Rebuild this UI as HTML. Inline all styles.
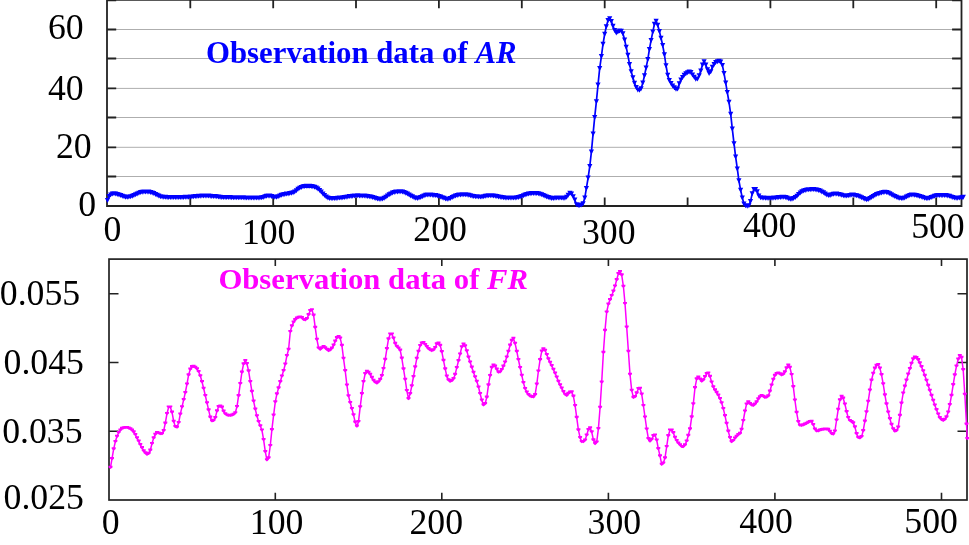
<!DOCTYPE html>
<html lang="en">
<head>
<meta charset="utf-8">
<title>Observation data of AR and FR</title>
<style>
html,body{margin:0;padding:0;background:#fff;}
body{width:969px;height:545px;overflow:hidden;}
svg{display:block;}
text{font-family:"Liberation Serif",serif;}
.tick{font-size:35.7px;fill:#000;}
.ttl{font-size:30.8px;font-weight:bold;}
.it{font-style:italic;}
</style>
</head>
<body>
<svg width="969" height="545" viewBox="0 0 969 545">
<rect x="0" y="0" width="969" height="545" fill="#ffffff"/>
<g id="chart-ar">
<path d="M107.0 176.5H961.5M107.0 147.3H961.5M107.0 117.5H961.5M107.0 88.4H961.5M107.0 58.5H961.5M107.0 29.5H961.5" stroke="#aeaeae" stroke-width="1" fill="none"/>
<path d="M107.0 176.5h9.2M961.5 176.5h-9.4M107.0 147.3h9.2M961.5 147.3h-9.4M107.0 117.5h9.2M961.5 117.5h-9.4M107.0 88.4h9.2M961.5 88.4h-9.4M107.0 58.5h9.2M961.5 58.5h-9.4M107.0 29.5h9.2M961.5 29.5h-9.4M107.0 0.3h9.2M961.5 0.3h-9.4M190.3 0v8.2M190.3 206.0v-8.4M273.2 0v8.2M273.2 206.0v-8.4M356.0 0v8.2M356.0 206.0v-8.4M438.9 0v8.2M438.9 206.0v-8.4M521.8 0v8.2M521.8 206.0v-8.4M604.7 0v8.2M604.7 206.0v-8.4M687.6 0v8.2M687.6 206.0v-8.4M770.4 0v8.2M770.4 206.0v-8.4M853.3 0v8.2M853.3 206.0v-8.4M936.2 0v8.2M936.2 206.0v-8.4" stroke="#222222" stroke-width="1.8" fill="none"/>
<path d="M107.0 0V206.0H961.5V0" stroke="#222222" stroke-width="1.8" fill="none" stroke-linejoin="miter"/>
<path d="M107.0 -0.2H961.5" stroke="#222222" stroke-width="1.8" fill="none"/>
<polyline points="107.5,200.2 109.1,196.2 110.7,194.8 112.4,193.9 114.0,193.5 115.7,193.7 117.3,194.2 119.0,194.9 120.7,195.4 122.3,196.0 124.0,196.6 125.6,197.0 127.3,197.1 128.9,196.9 130.6,196.5 132.3,195.9 133.9,195.3 135.6,194.5 137.2,193.7 138.9,192.9 140.6,192.4 142.2,192.0 143.9,191.7 145.5,191.6 147.2,191.7 148.8,191.9 150.5,192.2 152.2,192.6 153.8,193.3 155.5,194.1 157.1,194.9 158.8,195.8 160.4,196.4 162.1,196.8 163.8,197.0 165.4,197.1 167.1,197.1 168.7,197.2 170.4,197.2 172.0,197.2 173.7,197.2 175.4,197.2 177.0,197.2 178.7,197.2 180.3,197.2 182.0,197.1 183.6,197.1 185.3,197.1 187.0,197.0 188.6,197.0 190.3,196.8 191.9,196.7 193.6,196.5 195.3,196.4 196.9,196.2 198.6,196.1 200.2,196.0 201.9,195.9 203.5,195.8 205.2,195.8 206.9,195.8 208.5,195.9 210.2,196.0 211.8,196.1 213.5,196.2 215.1,196.4 216.8,196.6 218.5,196.8 220.1,197.0 221.8,197.2 223.4,197.3 225.1,197.3 226.7,197.4 228.4,197.4 230.1,197.4 231.7,197.4 233.4,197.4 235.0,197.5 236.7,197.5 238.4,197.5 240.0,197.5 241.7,197.5 243.3,197.6 245.0,197.6 246.6,197.6 248.3,197.7 250.0,197.8 251.6,197.8 253.3,197.8 254.9,197.8 256.6,197.8 258.2,197.8 259.9,197.7 261.6,197.5 263.2,197.1 264.9,196.6 266.5,196.0 268.2,195.8 269.8,195.9 271.5,196.2 273.2,196.7 274.8,197.0 276.5,197.0 278.1,196.4 279.8,195.7 281.4,195.0 283.1,194.5 284.8,194.1 286.4,193.9 288.1,193.6 289.7,193.4 291.4,193.0 293.1,192.5 294.7,191.7 296.4,190.5 298.0,189.1 299.7,188.0 301.3,187.2 303.0,186.6 304.7,186.2 306.3,186.0 308.0,185.9 309.6,186.0 311.3,186.2 312.9,186.5 314.6,187.0 316.3,187.7 317.9,188.7 319.6,190.2 321.2,191.9 322.9,193.6 324.5,195.3 326.2,196.7 327.9,197.7 329.5,198.2 331.2,198.4 332.8,198.3 334.5,198.2 336.1,198.1 337.8,198.0 339.5,197.8 341.1,197.7 342.8,197.5 344.4,197.2 346.1,196.9 347.8,196.6 349.4,196.4 351.1,196.1 352.7,195.9 354.4,195.8 356.0,195.6 357.7,195.6 359.4,195.6 361.0,195.7 362.7,195.8 364.3,195.9 366.0,196.0 367.6,196.2 369.3,196.5 371.0,196.9 372.6,197.3 374.3,197.7 375.9,198.3 377.6,198.7 379.2,199.0 380.9,199.0 382.6,198.7 384.2,197.9 385.9,196.9 387.5,195.7 389.2,194.6 390.8,193.6 392.5,192.8 394.2,192.3 395.8,191.9 397.5,191.6 399.1,191.5 400.8,191.5 402.5,191.8 404.1,192.2 405.8,192.9 407.4,193.9 409.1,194.8 410.7,195.6 412.4,196.6 414.1,197.5 415.7,198.0 417.4,198.1 419.0,197.8 420.7,197.2 422.3,196.4 424.0,195.7 425.7,195.1 427.3,194.8 429.0,194.8 430.6,194.9 432.3,195.0 433.9,195.2 435.6,195.4 437.3,195.7 438.9,196.1 440.6,196.7 442.2,197.4 443.9,198.1 445.6,198.7 447.2,199.0 448.9,198.8 450.5,198.2 452.2,197.4 453.8,196.6 455.5,195.8 457.2,195.3 458.8,194.8 460.5,194.6 462.1,194.5 463.8,194.4 465.4,194.5 467.1,194.7 468.8,195.1 470.4,195.5 472.1,195.9 473.7,196.2 475.4,196.4 477.0,196.5 478.7,196.6 480.4,196.7 482.0,196.6 483.7,196.4 485.3,196.1 487.0,195.8 488.6,195.6 490.3,195.5 492.0,195.5 493.6,195.7 495.3,196.0 496.9,196.3 498.6,196.7 500.3,197.0 501.9,197.3 503.6,197.5 505.2,197.6 506.9,197.8 508.5,197.9 510.2,197.9 511.9,197.9 513.5,197.8 515.2,197.6 516.8,197.5 518.5,197.2 520.1,196.8 521.8,196.2 523.5,195.5 525.1,194.9 526.8,194.3 528.4,193.8 530.1,193.5 531.7,193.3 533.4,193.1 535.1,193.2 536.7,193.3 538.4,193.6 540.0,194.0 541.7,194.6 543.3,195.3 545.0,196.0 546.7,196.7 548.3,197.4 550.0,197.9 551.6,198.2 553.3,198.2 555.0,198.0 556.6,197.7 558.3,197.7 559.9,197.7 561.6,197.8 563.2,197.9 564.9,198.0 566.6,197.1 568.2,195.0 569.9,193.0 571.5,193.9 573.2,196.5 574.8,199.7 576.5,204.5 578.2,205.3 579.8,205.3 581.5,204.8 583.1,203.5 584.8,197.8 586.4,188.1 588.1,177.8 589.8,166.2 591.4,151.8 593.1,133.7 594.7,117.2 596.4,101.4 598.0,84.9 599.7,68.1 601.4,56.3 603.0,44.1 604.7,34.0 606.3,26.4 608.0,20.4 609.7,18.5 611.3,21.1 613.0,26.0 614.6,30.2 616.3,32.8 617.9,31.7 619.6,30.7 621.3,30.9 622.9,33.5 624.6,39.6 626.2,47.1 627.9,55.1 629.5,64.2 631.2,71.6 632.9,77.5 634.5,83.1 636.2,87.4 637.8,89.6 639.5,90.1 641.1,88.5 642.8,82.9 644.5,75.5 646.1,67.6 647.8,59.3 649.4,49.3 651.1,40.2 652.8,31.8 654.4,24.1 656.1,21.0 657.7,25.1 659.4,31.2 661.0,38.0 662.7,45.3 664.4,54.5 666.0,65.5 667.7,75.0 669.3,80.3 671.0,83.3 672.6,85.7 674.3,87.5 676.0,89.0 677.6,88.7 679.3,83.5 680.9,79.8 682.6,77.3 684.2,75.0 685.9,73.5 687.6,72.5 689.2,71.9 690.9,72.3 692.5,74.8 694.2,77.0 695.8,78.9 697.5,78.8 699.2,75.6 700.8,70.6 702.5,64.7 704.1,61.4 705.8,64.8 707.5,69.5 709.1,73.2 710.8,71.6 712.4,67.0 714.1,64.3 715.7,62.3 717.4,61.5 719.1,61.0 720.7,61.6 722.4,65.3 724.0,73.2 725.7,82.8 727.3,92.4 729.0,102.0 730.7,114.1 732.3,128.8 734.0,143.4 735.6,156.6 737.3,168.7 738.9,180.6 740.6,189.9 742.3,197.8 743.9,203.6 745.6,205.6 747.2,206.0 748.9,205.5 750.5,201.4 752.2,193.6 753.9,189.3 755.5,189.4 757.2,191.4 758.8,195.6 760.5,197.5 762.2,197.6 763.8,197.9 765.5,197.9 767.1,198.0 768.8,198.0 770.4,198.0 772.1,197.9 773.8,197.8 775.4,197.7 777.1,197.5 778.7,197.3 780.4,197.2 782.0,197.0 783.7,197.0 785.4,197.2 787.0,197.7 788.7,198.4 790.3,198.9 792.0,198.9 793.6,198.4 795.3,197.3 797.0,196.0 798.6,194.4 800.3,192.8 801.9,191.6 803.6,190.7 805.2,190.1 806.9,189.8 808.6,189.6 810.2,189.4 811.9,189.4 813.5,189.4 815.2,189.5 816.9,189.8 818.5,190.2 820.2,190.8 821.8,191.6 823.5,192.6 825.1,193.7 826.8,194.7 828.5,195.3 830.1,195.1 831.8,194.5 833.4,194.0 835.1,193.7 836.7,193.8 838.4,194.1 840.1,194.6 841.7,195.0 843.4,195.5 845.0,195.8 846.7,195.8 848.3,195.6 850.0,195.2 851.7,194.9 853.3,194.9 855.0,195.1 856.6,195.6 858.3,196.1 860.0,196.7 861.6,197.4 863.3,198.3 864.9,199.1 866.6,199.5 868.2,199.3 869.9,198.4 871.6,197.3 873.2,196.1 874.9,195.1 876.5,194.3 878.2,193.7 879.8,193.2 881.5,192.7 883.2,192.3 884.8,192.0 886.5,192.2 888.1,192.7 889.8,193.6 891.4,194.5 893.1,195.5 894.8,196.4 896.4,197.1 898.1,197.6 899.7,198.1 901.4,198.3 903.0,198.2 904.7,197.6 906.4,196.8 908.0,196.0 909.7,195.3 911.3,194.9 913.0,194.8 914.7,195.1 916.3,195.4 918.0,195.8 919.6,196.2 921.3,196.8 922.9,197.4 924.6,197.9 926.3,198.3 927.9,198.3 929.6,197.9 931.2,197.3 932.9,196.7 934.5,196.0 936.2,195.5 937.9,195.3 939.5,195.2 941.2,195.2 942.8,195.2 944.5,195.2 946.1,195.3 947.8,195.6 949.5,196.1 951.1,196.7 952.8,197.3 954.4,197.8 956.1,198.0 957.7,198.0 959.4,197.8 961.1,197.4 962.7,197.1 963.3,196.9" fill="none" stroke="#0000ff" stroke-width="1.7" stroke-linejoin="round"/>
<path d="M104.9 198.0h5.2l-2.6 5.0zM106.5 194.0h5.2l-2.6 5.0zM108.1 192.6h5.2l-2.6 5.0zM109.8 191.6h5.2l-2.6 5.0zM111.4 191.3h5.2l-2.6 5.0zM113.1 191.5h5.2l-2.6 5.0zM114.7 192.0h5.2l-2.6 5.0zM116.4 192.6h5.2l-2.6 5.0zM118.1 193.1h5.2l-2.6 5.0zM119.7 193.8h5.2l-2.6 5.0zM121.4 194.3h5.2l-2.6 5.0zM123.0 194.7h5.2l-2.6 5.0zM124.7 194.8h5.2l-2.6 5.0zM126.3 194.6h5.2l-2.6 5.0zM128.0 194.2h5.2l-2.6 5.0zM129.7 193.7h5.2l-2.6 5.0zM131.3 193.0h5.2l-2.6 5.0zM133.0 192.2h5.2l-2.6 5.0zM134.6 191.4h5.2l-2.6 5.0zM136.3 190.7h5.2l-2.6 5.0zM138.0 190.1h5.2l-2.6 5.0zM139.6 189.7h5.2l-2.6 5.0zM141.3 189.4h5.2l-2.6 5.0zM142.9 189.4h5.2l-2.6 5.0zM144.6 189.4h5.2l-2.6 5.0zM146.2 189.6h5.2l-2.6 5.0zM147.9 189.9h5.2l-2.6 5.0zM149.6 190.4h5.2l-2.6 5.0zM151.2 191.1h5.2l-2.6 5.0zM152.9 191.9h5.2l-2.6 5.0zM154.5 192.7h5.2l-2.6 5.0zM156.2 193.5h5.2l-2.6 5.0zM157.8 194.2h5.2l-2.6 5.0zM159.5 194.6h5.2l-2.6 5.0zM161.2 194.7h5.2l-2.6 5.0zM162.8 194.8h5.2l-2.6 5.0zM164.5 194.9h5.2l-2.6 5.0zM166.1 194.9h5.2l-2.6 5.0zM167.8 195.0h5.2l-2.6 5.0zM169.4 195.0h5.2l-2.6 5.0zM171.1 195.0h5.2l-2.6 5.0zM172.8 195.0h5.2l-2.6 5.0zM174.4 194.9h5.2l-2.6 5.0zM176.1 194.9h5.2l-2.6 5.0zM177.7 194.9h5.2l-2.6 5.0zM179.4 194.9h5.2l-2.6 5.0zM181.0 194.9h5.2l-2.6 5.0zM182.7 194.8h5.2l-2.6 5.0zM184.4 194.8h5.2l-2.6 5.0zM186.0 194.7h5.2l-2.6 5.0zM187.7 194.6h5.2l-2.6 5.0zM189.3 194.4h5.2l-2.6 5.0zM191.0 194.3h5.2l-2.6 5.0zM192.7 194.1h5.2l-2.6 5.0zM194.3 194.0h5.2l-2.6 5.0zM196.0 193.8h5.2l-2.6 5.0zM197.6 193.7h5.2l-2.6 5.0zM199.3 193.6h5.2l-2.6 5.0zM200.9 193.6h5.2l-2.6 5.0zM202.6 193.5h5.2l-2.6 5.0zM204.3 193.6h5.2l-2.6 5.0zM205.9 193.6h5.2l-2.6 5.0zM207.6 193.7h5.2l-2.6 5.0zM209.2 193.9h5.2l-2.6 5.0zM210.9 194.0h5.2l-2.6 5.0zM212.5 194.1h5.2l-2.6 5.0zM214.2 194.3h5.2l-2.6 5.0zM215.9 194.5h5.2l-2.6 5.0zM217.5 194.7h5.2l-2.6 5.0zM219.2 194.9h5.2l-2.6 5.0zM220.8 195.0h5.2l-2.6 5.0zM222.5 195.1h5.2l-2.6 5.0zM224.1 195.1h5.2l-2.6 5.0zM225.8 195.1h5.2l-2.6 5.0zM227.5 195.1h5.2l-2.6 5.0zM229.1 195.2h5.2l-2.6 5.0zM230.8 195.2h5.2l-2.6 5.0zM232.4 195.2h5.2l-2.6 5.0zM234.1 195.2h5.2l-2.6 5.0zM235.8 195.2h5.2l-2.6 5.0zM237.4 195.3h5.2l-2.6 5.0zM239.1 195.3h5.2l-2.6 5.0zM240.7 195.3h5.2l-2.6 5.0zM242.4 195.4h5.2l-2.6 5.0zM244.0 195.4h5.2l-2.6 5.0zM245.7 195.5h5.2l-2.6 5.0zM247.4 195.5h5.2l-2.6 5.0zM249.0 195.5h5.2l-2.6 5.0zM250.7 195.6h5.2l-2.6 5.0zM252.3 195.6h5.2l-2.6 5.0zM254.0 195.6h5.2l-2.6 5.0zM255.6 195.5h5.2l-2.6 5.0zM257.3 195.4h5.2l-2.6 5.0zM259.0 195.3h5.2l-2.6 5.0zM260.6 194.9h5.2l-2.6 5.0zM262.3 194.3h5.2l-2.6 5.0zM263.9 193.8h5.2l-2.6 5.0zM265.6 193.5h5.2l-2.6 5.0zM267.2 193.6h5.2l-2.6 5.0zM268.9 194.0h5.2l-2.6 5.0zM270.6 194.4h5.2l-2.6 5.0zM272.2 194.8h5.2l-2.6 5.0zM273.9 194.7h5.2l-2.6 5.0zM275.5 194.2h5.2l-2.6 5.0zM277.2 193.4h5.2l-2.6 5.0zM278.8 192.7h5.2l-2.6 5.0zM280.5 192.2h5.2l-2.6 5.0zM282.2 191.9h5.2l-2.6 5.0zM283.8 191.6h5.2l-2.6 5.0zM285.5 191.4h5.2l-2.6 5.0zM287.1 191.1h5.2l-2.6 5.0zM288.8 190.8h5.2l-2.6 5.0zM290.5 190.3h5.2l-2.6 5.0zM292.1 189.4h5.2l-2.6 5.0zM293.8 188.2h5.2l-2.6 5.0zM295.4 186.8h5.2l-2.6 5.0zM297.1 185.7h5.2l-2.6 5.0zM298.7 184.9h5.2l-2.6 5.0zM300.4 184.3h5.2l-2.6 5.0zM302.1 183.9h5.2l-2.6 5.0zM303.7 183.7h5.2l-2.6 5.0zM305.4 183.7h5.2l-2.6 5.0zM307.0 183.8h5.2l-2.6 5.0zM308.7 184.0h5.2l-2.6 5.0zM310.3 184.3h5.2l-2.6 5.0zM312.0 184.7h5.2l-2.6 5.0zM313.7 185.5h5.2l-2.6 5.0zM315.3 186.5h5.2l-2.6 5.0zM317.0 187.9h5.2l-2.6 5.0zM318.6 189.6h5.2l-2.6 5.0zM320.3 191.4h5.2l-2.6 5.0zM321.9 193.1h5.2l-2.6 5.0zM323.6 194.5h5.2l-2.6 5.0zM325.3 195.5h5.2l-2.6 5.0zM326.9 196.0h5.2l-2.6 5.0zM328.6 196.1h5.2l-2.6 5.0zM330.2 196.1h5.2l-2.6 5.0zM331.9 196.0h5.2l-2.6 5.0zM333.5 195.9h5.2l-2.6 5.0zM335.2 195.7h5.2l-2.6 5.0zM336.9 195.6h5.2l-2.6 5.0zM338.5 195.4h5.2l-2.6 5.0zM340.2 195.2h5.2l-2.6 5.0zM341.8 195.0h5.2l-2.6 5.0zM343.5 194.7h5.2l-2.6 5.0zM345.2 194.4h5.2l-2.6 5.0zM346.8 194.1h5.2l-2.6 5.0zM348.5 193.9h5.2l-2.6 5.0zM350.1 193.7h5.2l-2.6 5.0zM351.8 193.5h5.2l-2.6 5.0zM353.4 193.4h5.2l-2.6 5.0zM355.1 193.3h5.2l-2.6 5.0zM356.8 193.4h5.2l-2.6 5.0zM358.4 193.4h5.2l-2.6 5.0zM360.1 193.5h5.2l-2.6 5.0zM361.7 193.6h5.2l-2.6 5.0zM363.4 193.8h5.2l-2.6 5.0zM365.0 194.0h5.2l-2.6 5.0zM366.7 194.3h5.2l-2.6 5.0zM368.4 194.6h5.2l-2.6 5.0zM370.0 195.0h5.2l-2.6 5.0zM371.7 195.5h5.2l-2.6 5.0zM373.3 196.0h5.2l-2.6 5.0zM375.0 196.5h5.2l-2.6 5.0zM376.6 196.8h5.2l-2.6 5.0zM378.3 196.8h5.2l-2.6 5.0zM380.0 196.4h5.2l-2.6 5.0zM381.6 195.7h5.2l-2.6 5.0zM383.3 194.7h5.2l-2.6 5.0zM384.9 193.5h5.2l-2.6 5.0zM386.6 192.3h5.2l-2.6 5.0zM388.2 191.4h5.2l-2.6 5.0zM389.9 190.6h5.2l-2.6 5.0zM391.6 190.0h5.2l-2.6 5.0zM393.2 189.6h5.2l-2.6 5.0zM394.9 189.4h5.2l-2.6 5.0zM396.5 189.2h5.2l-2.6 5.0zM398.2 189.3h5.2l-2.6 5.0zM399.9 189.5h5.2l-2.6 5.0zM401.5 190.0h5.2l-2.6 5.0zM403.2 190.7h5.2l-2.6 5.0zM404.8 191.6h5.2l-2.6 5.0zM406.5 192.5h5.2l-2.6 5.0zM408.1 193.4h5.2l-2.6 5.0zM409.8 194.3h5.2l-2.6 5.0zM411.5 195.2h5.2l-2.6 5.0zM413.1 195.8h5.2l-2.6 5.0zM414.8 195.9h5.2l-2.6 5.0zM416.4 195.5h5.2l-2.6 5.0zM418.1 194.9h5.2l-2.6 5.0zM419.7 194.2h5.2l-2.6 5.0zM421.4 193.4h5.2l-2.6 5.0zM423.1 192.8h5.2l-2.6 5.0zM424.7 192.6h5.2l-2.6 5.0zM426.4 192.6h5.2l-2.6 5.0zM428.0 192.6h5.2l-2.6 5.0zM429.7 192.7h5.2l-2.6 5.0zM431.3 192.9h5.2l-2.6 5.0zM433.0 193.1h5.2l-2.6 5.0zM434.7 193.4h5.2l-2.6 5.0zM436.3 193.9h5.2l-2.6 5.0zM438.0 194.5h5.2l-2.6 5.0zM439.6 195.2h5.2l-2.6 5.0zM441.3 195.8h5.2l-2.6 5.0zM443.0 196.4h5.2l-2.6 5.0zM444.6 196.7h5.2l-2.6 5.0zM446.3 196.5h5.2l-2.6 5.0zM447.9 195.9h5.2l-2.6 5.0zM449.6 195.1h5.2l-2.6 5.0zM451.2 194.3h5.2l-2.6 5.0zM452.9 193.6h5.2l-2.6 5.0zM454.6 193.0h5.2l-2.6 5.0zM456.2 192.6h5.2l-2.6 5.0zM457.9 192.4h5.2l-2.6 5.0zM459.5 192.2h5.2l-2.6 5.0zM461.2 192.2h5.2l-2.6 5.0zM462.8 192.2h5.2l-2.6 5.0zM464.5 192.5h5.2l-2.6 5.0zM466.2 192.8h5.2l-2.6 5.0zM467.8 193.3h5.2l-2.6 5.0zM469.5 193.7h5.2l-2.6 5.0zM471.1 194.0h5.2l-2.6 5.0zM472.8 194.2h5.2l-2.6 5.0zM474.4 194.3h5.2l-2.6 5.0zM476.1 194.4h5.2l-2.6 5.0zM477.8 194.4h5.2l-2.6 5.0zM479.4 194.4h5.2l-2.6 5.0zM481.1 194.2h5.2l-2.6 5.0zM482.7 193.8h5.2l-2.6 5.0zM484.4 193.5h5.2l-2.6 5.0zM486.0 193.3h5.2l-2.6 5.0zM487.7 193.2h5.2l-2.6 5.0zM489.4 193.3h5.2l-2.6 5.0zM491.0 193.5h5.2l-2.6 5.0zM492.7 193.7h5.2l-2.6 5.0zM494.3 194.1h5.2l-2.6 5.0zM496.0 194.4h5.2l-2.6 5.0zM497.7 194.8h5.2l-2.6 5.0zM499.3 195.0h5.2l-2.6 5.0zM501.0 195.2h5.2l-2.6 5.0zM502.6 195.4h5.2l-2.6 5.0zM504.3 195.5h5.2l-2.6 5.0zM505.9 195.6h5.2l-2.6 5.0zM507.6 195.6h5.2l-2.6 5.0zM509.3 195.6h5.2l-2.6 5.0zM510.9 195.5h5.2l-2.6 5.0zM512.6 195.4h5.2l-2.6 5.0zM514.2 195.2h5.2l-2.6 5.0zM515.9 194.9h5.2l-2.6 5.0zM517.5 194.5h5.2l-2.6 5.0zM519.2 193.9h5.2l-2.6 5.0zM520.9 193.3h5.2l-2.6 5.0zM522.5 192.6h5.2l-2.6 5.0zM524.2 192.1h5.2l-2.6 5.0zM525.8 191.6h5.2l-2.6 5.0zM527.5 191.3h5.2l-2.6 5.0zM529.1 191.0h5.2l-2.6 5.0zM530.8 190.9h5.2l-2.6 5.0zM532.5 190.9h5.2l-2.6 5.0zM534.1 191.1h5.2l-2.6 5.0zM535.8 191.3h5.2l-2.6 5.0zM537.4 191.7h5.2l-2.6 5.0zM539.1 192.3h5.2l-2.6 5.0zM540.7 193.0h5.2l-2.6 5.0zM542.4 193.7h5.2l-2.6 5.0zM544.1 194.5h5.2l-2.6 5.0zM545.7 195.1h5.2l-2.6 5.0zM547.4 195.6h5.2l-2.6 5.0zM549.0 195.9h5.2l-2.6 5.0zM550.7 196.0h5.2l-2.6 5.0zM552.4 195.8h5.2l-2.6 5.0zM554.0 195.5h5.2l-2.6 5.0zM555.7 195.4h5.2l-2.6 5.0zM557.3 195.5h5.2l-2.6 5.0zM559.0 195.6h5.2l-2.6 5.0zM560.6 195.7h5.2l-2.6 5.0zM562.3 195.8h5.2l-2.6 5.0zM564.0 194.8h5.2l-2.6 5.0zM565.6 192.7h5.2l-2.6 5.0zM567.3 190.8h5.2l-2.6 5.0zM568.9 191.6h5.2l-2.6 5.0zM570.6 194.2h5.2l-2.6 5.0zM572.2 197.5h5.2l-2.6 5.0zM573.9 202.2h5.2l-2.6 5.0zM575.6 203.0h5.2l-2.6 5.0zM577.2 203.1h5.2l-2.6 5.0zM578.9 202.6h5.2l-2.6 5.0zM580.5 201.2h5.2l-2.6 5.0zM582.2 195.6h5.2l-2.6 5.0zM583.8 185.9h5.2l-2.6 5.0zM585.5 175.5h5.2l-2.6 5.0zM587.2 164.0h5.2l-2.6 5.0zM588.8 149.6h5.2l-2.6 5.0zM590.5 131.5h5.2l-2.6 5.0zM592.1 115.0h5.2l-2.6 5.0zM593.8 99.2h5.2l-2.6 5.0zM595.4 82.6h5.2l-2.6 5.0zM597.1 65.9h5.2l-2.6 5.0zM598.8 54.0h5.2l-2.6 5.0zM600.4 41.8h5.2l-2.6 5.0zM602.1 31.7h5.2l-2.6 5.0zM603.7 24.2h5.2l-2.6 5.0zM605.4 18.1h5.2l-2.6 5.0zM607.1 16.2h5.2l-2.6 5.0zM608.7 18.9h5.2l-2.6 5.0zM610.4 23.8h5.2l-2.6 5.0zM612.0 27.9h5.2l-2.6 5.0zM613.7 30.6h5.2l-2.6 5.0zM615.3 29.5h5.2l-2.6 5.0zM617.0 28.4h5.2l-2.6 5.0zM618.7 28.7h5.2l-2.6 5.0zM620.3 31.2h5.2l-2.6 5.0zM622.0 37.4h5.2l-2.6 5.0zM623.6 44.8h5.2l-2.6 5.0zM625.3 52.8h5.2l-2.6 5.0zM626.9 61.9h5.2l-2.6 5.0zM628.6 69.3h5.2l-2.6 5.0zM630.3 75.3h5.2l-2.6 5.0zM631.9 80.8h5.2l-2.6 5.0zM633.6 85.1h5.2l-2.6 5.0zM635.2 87.4h5.2l-2.6 5.0zM636.9 87.8h5.2l-2.6 5.0zM638.5 86.2h5.2l-2.6 5.0zM640.2 80.6h5.2l-2.6 5.0zM641.9 73.2h5.2l-2.6 5.0zM643.5 65.4h5.2l-2.6 5.0zM645.2 57.0h5.2l-2.6 5.0zM646.8 47.1h5.2l-2.6 5.0zM648.5 38.0h5.2l-2.6 5.0zM650.2 29.6h5.2l-2.6 5.0zM651.8 21.8h5.2l-2.6 5.0zM653.5 18.8h5.2l-2.6 5.0zM655.1 22.8h5.2l-2.6 5.0zM656.8 28.9h5.2l-2.6 5.0zM658.4 35.7h5.2l-2.6 5.0zM660.1 43.1h5.2l-2.6 5.0zM661.8 52.2h5.2l-2.6 5.0zM663.4 63.2h5.2l-2.6 5.0zM665.1 72.8h5.2l-2.6 5.0zM666.7 78.0h5.2l-2.6 5.0zM668.4 81.0h5.2l-2.6 5.0zM670.0 83.4h5.2l-2.6 5.0zM671.7 85.3h5.2l-2.6 5.0zM673.4 86.7h5.2l-2.6 5.0zM675.0 86.5h5.2l-2.6 5.0zM676.7 81.3h5.2l-2.6 5.0zM678.3 77.6h5.2l-2.6 5.0zM680.0 75.0h5.2l-2.6 5.0zM681.6 72.8h5.2l-2.6 5.0zM683.3 71.2h5.2l-2.6 5.0zM685.0 70.2h5.2l-2.6 5.0zM686.6 69.6h5.2l-2.6 5.0zM688.3 70.0h5.2l-2.6 5.0zM689.9 72.6h5.2l-2.6 5.0zM691.6 74.7h5.2l-2.6 5.0zM693.2 76.7h5.2l-2.6 5.0zM694.9 76.5h5.2l-2.6 5.0zM696.6 73.3h5.2l-2.6 5.0zM698.2 68.4h5.2l-2.6 5.0zM699.9 62.4h5.2l-2.6 5.0zM701.5 59.2h5.2l-2.6 5.0zM703.2 62.6h5.2l-2.6 5.0zM704.9 67.2h5.2l-2.6 5.0zM706.5 70.9h5.2l-2.6 5.0zM708.2 69.3h5.2l-2.6 5.0zM709.8 64.8h5.2l-2.6 5.0zM711.5 62.0h5.2l-2.6 5.0zM713.1 60.1h5.2l-2.6 5.0zM714.8 59.2h5.2l-2.6 5.0zM716.5 58.7h5.2l-2.6 5.0zM718.1 59.4h5.2l-2.6 5.0zM719.8 63.0h5.2l-2.6 5.0zM721.4 71.0h5.2l-2.6 5.0zM723.1 80.5h5.2l-2.6 5.0zM724.7 90.1h5.2l-2.6 5.0zM726.4 99.8h5.2l-2.6 5.0zM728.1 111.8h5.2l-2.6 5.0zM729.7 126.5h5.2l-2.6 5.0zM731.4 141.2h5.2l-2.6 5.0zM733.0 154.4h5.2l-2.6 5.0zM734.7 166.5h5.2l-2.6 5.0zM736.3 178.3h5.2l-2.6 5.0zM738.0 187.7h5.2l-2.6 5.0zM739.7 195.5h5.2l-2.6 5.0zM741.3 201.4h5.2l-2.6 5.0zM743.0 203.3h5.2l-2.6 5.0zM744.6 203.8h5.2l-2.6 5.0zM746.3 203.2h5.2l-2.6 5.0zM747.9 199.1h5.2l-2.6 5.0zM749.6 191.3h5.2l-2.6 5.0zM751.3 187.1h5.2l-2.6 5.0zM752.9 187.1h5.2l-2.6 5.0zM754.6 189.2h5.2l-2.6 5.0zM756.2 193.4h5.2l-2.6 5.0zM757.9 195.2h5.2l-2.6 5.0zM759.6 195.4h5.2l-2.6 5.0zM761.2 195.6h5.2l-2.6 5.0zM762.9 195.7h5.2l-2.6 5.0zM764.5 195.7h5.2l-2.6 5.0zM766.2 195.8h5.2l-2.6 5.0zM767.8 195.7h5.2l-2.6 5.0zM769.5 195.7h5.2l-2.6 5.0zM771.2 195.6h5.2l-2.6 5.0zM772.8 195.4h5.2l-2.6 5.0zM774.5 195.3h5.2l-2.6 5.0zM776.1 195.1h5.2l-2.6 5.0zM777.8 194.9h5.2l-2.6 5.0zM779.4 194.8h5.2l-2.6 5.0zM781.1 194.7h5.2l-2.6 5.0zM782.8 194.9h5.2l-2.6 5.0zM784.4 195.5h5.2l-2.6 5.0zM786.1 196.2h5.2l-2.6 5.0zM787.7 196.7h5.2l-2.6 5.0zM789.4 196.7h5.2l-2.6 5.0zM791.0 196.1h5.2l-2.6 5.0zM792.7 195.1h5.2l-2.6 5.0zM794.4 193.7h5.2l-2.6 5.0zM796.0 192.1h5.2l-2.6 5.0zM797.7 190.6h5.2l-2.6 5.0zM799.3 189.3h5.2l-2.6 5.0zM801.0 188.4h5.2l-2.6 5.0zM802.6 187.9h5.2l-2.6 5.0zM804.3 187.5h5.2l-2.6 5.0zM806.0 187.3h5.2l-2.6 5.0zM807.6 187.2h5.2l-2.6 5.0zM809.3 187.1h5.2l-2.6 5.0zM810.9 187.1h5.2l-2.6 5.0zM812.6 187.2h5.2l-2.6 5.0zM814.3 187.5h5.2l-2.6 5.0zM815.9 187.9h5.2l-2.6 5.0zM817.6 188.5h5.2l-2.6 5.0zM819.2 189.4h5.2l-2.6 5.0zM820.9 190.3h5.2l-2.6 5.0zM822.5 191.4h5.2l-2.6 5.0zM824.2 192.5h5.2l-2.6 5.0zM825.9 193.0h5.2l-2.6 5.0zM827.5 192.9h5.2l-2.6 5.0zM829.2 192.3h5.2l-2.6 5.0zM830.8 191.7h5.2l-2.6 5.0zM832.5 191.5h5.2l-2.6 5.0zM834.1 191.5h5.2l-2.6 5.0zM835.8 191.9h5.2l-2.6 5.0zM837.5 192.3h5.2l-2.6 5.0zM839.1 192.8h5.2l-2.6 5.0zM840.8 193.2h5.2l-2.6 5.0zM842.4 193.5h5.2l-2.6 5.0zM844.1 193.6h5.2l-2.6 5.0zM845.7 193.3h5.2l-2.6 5.0zM847.4 192.9h5.2l-2.6 5.0zM849.1 192.6h5.2l-2.6 5.0zM850.7 192.6h5.2l-2.6 5.0zM852.4 192.9h5.2l-2.6 5.0zM854.0 193.3h5.2l-2.6 5.0zM855.7 193.8h5.2l-2.6 5.0zM857.4 194.5h5.2l-2.6 5.0zM859.0 195.2h5.2l-2.6 5.0zM860.7 196.0h5.2l-2.6 5.0zM862.3 196.8h5.2l-2.6 5.0zM864.0 197.3h5.2l-2.6 5.0zM865.6 197.0h5.2l-2.6 5.0zM867.3 196.1h5.2l-2.6 5.0zM869.0 195.0h5.2l-2.6 5.0zM870.6 193.9h5.2l-2.6 5.0zM872.3 192.9h5.2l-2.6 5.0zM873.9 192.1h5.2l-2.6 5.0zM875.6 191.5h5.2l-2.6 5.0zM877.2 191.0h5.2l-2.6 5.0zM878.9 190.5h5.2l-2.6 5.0zM880.6 190.0h5.2l-2.6 5.0zM882.2 189.8h5.2l-2.6 5.0zM883.9 189.9h5.2l-2.6 5.0zM885.5 190.5h5.2l-2.6 5.0zM887.2 191.3h5.2l-2.6 5.0zM888.8 192.3h5.2l-2.6 5.0zM890.5 193.2h5.2l-2.6 5.0zM892.2 194.1h5.2l-2.6 5.0zM893.8 194.8h5.2l-2.6 5.0zM895.5 195.4h5.2l-2.6 5.0zM897.1 195.8h5.2l-2.6 5.0zM898.8 196.1h5.2l-2.6 5.0zM900.4 195.9h5.2l-2.6 5.0zM902.1 195.4h5.2l-2.6 5.0zM903.8 194.6h5.2l-2.6 5.0zM905.4 193.8h5.2l-2.6 5.0zM907.1 193.1h5.2l-2.6 5.0zM908.7 192.6h5.2l-2.6 5.0zM910.4 192.6h5.2l-2.6 5.0zM912.1 192.8h5.2l-2.6 5.0zM913.7 193.1h5.2l-2.6 5.0zM915.4 193.5h5.2l-2.6 5.0zM917.0 194.0h5.2l-2.6 5.0zM918.7 194.5h5.2l-2.6 5.0zM920.3 195.1h5.2l-2.6 5.0zM922.0 195.7h5.2l-2.6 5.0zM923.7 196.0h5.2l-2.6 5.0zM925.3 196.0h5.2l-2.6 5.0zM927.0 195.7h5.2l-2.6 5.0zM928.6 195.1h5.2l-2.6 5.0zM930.3 194.4h5.2l-2.6 5.0zM931.9 193.8h5.2l-2.6 5.0zM933.6 193.3h5.2l-2.6 5.0zM935.3 193.0h5.2l-2.6 5.0zM936.9 192.9h5.2l-2.6 5.0zM938.6 192.9h5.2l-2.6 5.0zM940.2 192.9h5.2l-2.6 5.0zM941.9 192.9h5.2l-2.6 5.0zM943.5 193.1h5.2l-2.6 5.0zM945.2 193.4h5.2l-2.6 5.0zM946.9 193.8h5.2l-2.6 5.0zM948.5 194.4h5.2l-2.6 5.0zM950.2 195.0h5.2l-2.6 5.0zM951.8 195.6h5.2l-2.6 5.0zM953.5 195.8h5.2l-2.6 5.0zM955.1 195.7h5.2l-2.6 5.0zM956.8 195.5h5.2l-2.6 5.0zM958.5 195.2h5.2l-2.6 5.0zM960.1 194.9h5.2l-2.6 5.0zM960.7 194.7h5.2l-2.6 5.0z" fill="#0000ff"/>
</g>
<g id="chart-fr">
<path d="M109.0 293.8h9.5M967.0 293.8h-9.5M109.0 362.5h9.5M967.0 362.5h-9.5M109.0 431.2h9.5M967.0 431.2h-9.5M275.3 259.1v7.0M275.3 500.0v-7.3M441.8 259.1v7.0M441.8 500.0v-7.3M608.4 259.1v7.0M608.4 500.0v-7.3M774.9 259.1v7.0M774.9 500.0v-7.3M941.5 259.1v7.0M941.5 500.0v-7.3" stroke="#222222" stroke-width="1.6" fill="none"/>
<rect x="109.0" y="259.1" width="858.0" height="240.9" stroke="#222222" stroke-width="1.7" fill="none"/>
<polyline points="110.5,467.4 112.0,458.7 113.7,448.9 115.4,441.5 117.0,436.3 118.7,432.5 120.4,430.0 122.0,428.4 123.7,427.8 125.4,427.5 127.0,427.5 128.7,428.1 130.4,428.9 132.0,430.1 133.7,431.9 135.3,434.5 137.0,437.8 138.7,441.1 140.3,444.5 142.0,447.7 143.7,450.8 145.3,452.9 147.0,454.3 148.7,453.4 150.3,450.2 152.0,443.5 153.7,437.9 155.3,434.3 157.0,432.5 158.7,433.0 160.3,433.7 162.0,433.7 163.7,430.6 165.3,423.2 167.0,413.5 168.7,407.0 170.3,407.0 172.0,412.2 173.7,421.3 175.3,426.6 177.0,427.2 178.7,422.5 180.3,414.1 182.0,406.8 183.7,399.6 185.3,392.6 187.0,384.0 188.6,374.9 190.3,369.2 192.0,366.7 193.6,366.4 195.3,367.3 197.0,368.8 198.6,371.5 200.3,375.8 202.0,381.7 203.6,388.3 205.3,395.5 207.0,402.8 208.6,409.9 210.3,417.2 212.0,420.9 213.6,420.4 215.3,417.6 217.0,410.9 218.6,406.6 220.3,406.2 222.0,407.2 223.6,411.2 225.3,413.8 227.0,415.0 228.6,415.3 230.3,415.4 232.0,415.1 233.6,414.4 235.3,412.8 237.0,406.5 238.6,395.7 240.3,383.5 241.9,372.2 243.6,363.9 245.3,360.6 246.9,363.6 248.6,370.9 250.3,381.6 251.9,391.4 253.6,401.1 255.3,409.1 256.9,415.8 258.6,421.5 260.3,425.8 261.9,430.0 263.6,439.6 265.3,451.6 266.9,459.8 268.6,457.9 270.3,445.5 271.9,429.7 273.6,415.1 275.3,401.8 276.9,393.9 278.6,387.9 280.3,381.7 281.9,376.0 283.6,370.6 285.3,364.0 286.9,355.6 288.6,349.3 290.3,331.5 291.9,325.9 293.6,322.1 295.2,319.7 296.9,318.2 298.6,317.4 300.2,317.0 301.9,317.7 303.6,319.5 305.2,319.8 306.9,318.7 308.6,314.7 310.2,310.5 311.9,309.8 313.6,315.2 315.2,327.4 316.9,339.3 318.6,348.0 320.2,349.3 321.9,347.9 323.6,346.5 325.2,347.8 326.9,349.4 328.6,350.7 330.2,349.9 331.9,348.2 333.6,345.1 335.2,341.2 336.9,337.7 338.6,336.5 340.2,338.1 341.9,345.4 343.5,358.3 345.2,370.7 346.9,385.0 348.5,395.8 350.2,402.5 351.9,408.6 353.5,414.8 355.2,422.2 356.9,426.2 358.5,421.6 360.2,406.8 361.9,393.7 363.5,381.6 365.2,373.6 366.9,371.4 368.5,372.3 370.2,374.3 371.9,377.4 373.5,380.3 375.2,382.2 376.9,383.1 378.5,381.8 380.2,379.4 381.9,375.6 383.5,368.5 385.2,359.4 386.9,348.7 388.5,338.9 390.2,334.0 391.9,334.0 393.5,338.1 395.2,343.4 396.8,346.3 398.5,348.0 400.2,350.2 401.8,358.2 403.5,368.9 405.2,379.3 406.8,390.5 408.5,398.7 410.2,393.6 411.8,385.8 413.5,376.6 415.2,366.9 416.8,358.3 418.5,351.3 420.2,345.5 421.8,343.1 423.5,342.5 425.2,344.5 426.8,346.6 428.5,348.7 430.2,349.9 431.8,350.6 433.5,349.9 435.2,347.5 436.8,343.9 438.5,343.2 440.2,345.4 441.8,351.7 443.5,360.4 445.2,368.9 446.8,376.1 448.5,379.9 450.1,381.3 451.8,380.7 453.5,378.7 455.1,374.4 456.8,367.6 458.5,360.7 460.1,354.0 461.8,346.8 463.5,344.0 465.1,345.9 466.8,350.8 468.5,357.1 470.1,362.0 471.8,367.2 473.5,372.3 475.1,376.8 476.8,381.3 478.5,387.0 480.1,393.5 481.8,400.1 483.5,404.9 485.1,403.7 486.8,397.2 488.5,384.9 490.1,375.6 491.8,367.4 493.5,365.2 495.1,366.2 496.8,369.2 498.5,372.2 500.1,371.8 501.8,369.5 503.4,366.2 505.1,362.0 506.8,357.0 508.4,351.3 510.1,345.2 511.8,340.4 513.4,338.3 515.1,343.3 516.8,351.4 518.4,359.5 520.1,367.5 521.8,375.3 523.4,382.6 525.1,388.5 526.8,392.1 528.4,394.6 530.1,396.1 531.8,396.7 533.4,396.9 535.1,394.7 536.8,384.1 538.4,371.0 540.1,359.7 541.8,351.1 543.4,348.9 545.1,350.3 546.8,354.5 548.4,358.8 550.1,362.3 551.7,365.6 553.4,369.3 555.1,373.1 556.7,377.0 558.4,381.3 560.1,384.8 561.7,388.1 563.4,391.6 565.1,394.3 566.7,395.4 568.4,393.4 570.1,392.2 571.7,391.9 573.4,396.2 575.1,405.6 576.7,417.4 578.4,429.9 580.1,437.6 581.7,441.6 583.4,441.6 585.1,440.1 586.7,435.0 588.4,429.5 590.1,427.9 591.7,431.8 593.4,439.9 595.1,443.6 596.7,442.0 598.4,428.6 600.1,407.3 601.7,382.1 603.4,352.4 605.0,330.4 606.7,312.0 608.4,304.1 610.0,299.7 611.7,295.5 613.4,291.1 615.0,286.0 616.7,279.7 618.4,273.5 620.0,271.6 621.7,274.9 623.4,286.3 625.0,303.5 626.7,327.1 628.4,351.3 630.0,374.3 631.7,390.3 633.4,397.4 635.0,396.7 636.7,392.9 638.4,388.5 640.0,388.3 641.7,394.1 643.4,405.5 645.0,417.0 646.7,429.0 648.4,438.7 650.0,441.1 651.7,439.3 653.4,435.7 655.0,435.1 656.7,440.0 658.3,448.7 660.0,455.9 661.7,464.3 663.3,463.1 665.0,457.9 666.7,446.5 668.3,435.7 670.0,430.0 671.7,430.1 673.3,432.7 675.0,437.3 676.7,440.5 678.3,443.0 680.0,444.8 681.7,446.5 683.3,446.6 685.0,444.9 686.7,441.0 688.3,435.4 690.0,428.9 691.7,416.9 693.3,403.8 695.0,387.7 696.7,378.9 698.3,377.1 700.0,379.0 701.7,381.2 703.3,379.9 705.0,376.6 706.7,373.5 708.3,373.0 710.0,376.4 711.6,382.0 713.3,386.8 715.0,389.9 716.6,392.4 718.3,395.1 720.0,398.6 721.6,402.8 723.3,408.5 725.0,415.7 726.6,423.3 728.3,431.2 730.0,437.6 731.6,441.7 733.3,440.5 735.0,438.1 736.6,436.3 738.3,434.7 740.0,433.4 741.6,429.3 743.3,420.5 745.0,411.0 746.6,404.0 748.3,401.9 750.0,403.7 751.6,404.9 753.3,405.4 755.0,404.1 756.6,401.9 758.3,398.9 759.9,396.8 761.6,395.5 763.3,396.3 764.9,397.4 766.6,397.2 768.3,395.9 769.9,391.2 771.6,385.0 773.3,379.3 774.9,375.4 776.6,373.5 778.3,373.0 779.9,373.8 781.6,375.0 783.3,374.2 784.9,371.8 786.6,367.9 788.3,365.2 789.9,367.3 791.6,374.5 793.3,386.7 794.9,400.0 796.6,412.4 798.3,421.6 799.9,425.2 801.6,425.5 803.3,424.9 804.9,424.2 806.6,423.3 808.3,422.4 809.9,421.5 811.6,421.4 813.2,424.6 814.9,429.0 816.6,430.9 818.2,431.0 819.9,430.2 821.6,429.7 823.2,429.3 824.9,429.2 826.6,429.2 828.2,429.4 829.9,431.4 831.6,433.6 833.2,434.1 834.9,431.1 836.6,420.0 838.2,409.3 839.9,399.9 841.6,396.3 843.2,398.2 844.9,404.0 846.6,411.7 848.2,417.5 849.9,420.5 851.6,421.7 853.2,422.9 854.9,426.9 856.6,433.7 858.2,437.4 859.9,438.0 861.6,436.6 863.2,430.7 864.9,421.2 866.5,411.8 868.2,401.3 869.9,390.1 871.5,380.2 873.2,373.3 874.9,368.2 876.5,365.3 878.2,364.5 879.9,368.1 881.5,374.7 883.2,383.8 884.9,394.9 886.5,403.9 888.2,412.0 889.9,418.7 891.5,424.4 893.2,428.8 894.9,431.2 896.5,430.6 898.2,427.1 899.9,415.4 901.5,403.1 903.2,393.0 904.9,386.2 906.5,380.1 908.2,374.1 909.9,368.6 911.5,363.3 913.2,358.9 914.9,357.2 916.5,357.5 918.2,359.7 919.8,362.9 921.5,366.7 923.2,370.8 924.8,375.4 926.5,380.3 928.2,385.4 929.8,390.3 931.5,395.4 933.2,400.3 934.8,405.0 936.5,409.7 938.2,414.0 939.8,417.7 941.5,419.6 943.2,420.4 944.8,419.4 946.5,416.9 948.2,412.0 949.8,404.6 951.5,395.4 953.2,384.7 954.8,374.9 956.5,366.0 958.2,359.1 959.8,355.5 961.5,357.4 963.2,369.7 964.8,394.3 966.5,424.2 967.3,438.6" fill="none" stroke="#ff00ff" stroke-width="1.5" stroke-linejoin="round"/>
<path d="M108.5 465.8h4.0v1.6l-2.0 1.6l-2.0 -1.6zM110.0 457.1h4.0v1.6l-2.0 1.6l-2.0 -1.6zM111.7 447.3h4.0v1.6l-2.0 1.6l-2.0 -1.6zM113.4 439.9h4.0v1.6l-2.0 1.6l-2.0 -1.6zM115.0 434.7h4.0v1.6l-2.0 1.6l-2.0 -1.6zM116.7 430.9h4.0v1.6l-2.0 1.6l-2.0 -1.6zM118.4 428.4h4.0v1.6l-2.0 1.6l-2.0 -1.6zM120.0 426.8h4.0v1.6l-2.0 1.6l-2.0 -1.6zM121.7 426.2h4.0v1.6l-2.0 1.6l-2.0 -1.6zM123.4 425.9h4.0v1.6l-2.0 1.6l-2.0 -1.6zM125.0 425.9h4.0v1.6l-2.0 1.6l-2.0 -1.6zM126.7 426.5h4.0v1.6l-2.0 1.6l-2.0 -1.6zM128.4 427.3h4.0v1.6l-2.0 1.6l-2.0 -1.6zM130.0 428.5h4.0v1.6l-2.0 1.6l-2.0 -1.6zM131.7 430.3h4.0v1.6l-2.0 1.6l-2.0 -1.6zM133.3 432.9h4.0v1.6l-2.0 1.6l-2.0 -1.6zM135.0 436.2h4.0v1.6l-2.0 1.6l-2.0 -1.6zM136.7 439.5h4.0v1.6l-2.0 1.6l-2.0 -1.6zM138.3 442.9h4.0v1.6l-2.0 1.6l-2.0 -1.6zM140.0 446.1h4.0v1.6l-2.0 1.6l-2.0 -1.6zM141.7 449.2h4.0v1.6l-2.0 1.6l-2.0 -1.6zM143.3 451.3h4.0v1.6l-2.0 1.6l-2.0 -1.6zM145.0 452.7h4.0v1.6l-2.0 1.6l-2.0 -1.6zM146.7 451.8h4.0v1.6l-2.0 1.6l-2.0 -1.6zM148.3 448.6h4.0v1.6l-2.0 1.6l-2.0 -1.6zM150.0 441.9h4.0v1.6l-2.0 1.6l-2.0 -1.6zM151.7 436.3h4.0v1.6l-2.0 1.6l-2.0 -1.6zM153.3 432.7h4.0v1.6l-2.0 1.6l-2.0 -1.6zM155.0 430.9h4.0v1.6l-2.0 1.6l-2.0 -1.6zM156.7 431.4h4.0v1.6l-2.0 1.6l-2.0 -1.6zM158.3 432.1h4.0v1.6l-2.0 1.6l-2.0 -1.6zM160.0 432.1h4.0v1.6l-2.0 1.6l-2.0 -1.6zM161.7 429.0h4.0v1.6l-2.0 1.6l-2.0 -1.6zM163.3 421.6h4.0v1.6l-2.0 1.6l-2.0 -1.6zM165.0 411.9h4.0v1.6l-2.0 1.6l-2.0 -1.6zM166.7 405.4h4.0v1.6l-2.0 1.6l-2.0 -1.6zM168.3 405.4h4.0v1.6l-2.0 1.6l-2.0 -1.6zM170.0 410.6h4.0v1.6l-2.0 1.6l-2.0 -1.6zM171.7 419.7h4.0v1.6l-2.0 1.6l-2.0 -1.6zM173.3 425.0h4.0v1.6l-2.0 1.6l-2.0 -1.6zM175.0 425.6h4.0v1.6l-2.0 1.6l-2.0 -1.6zM176.7 420.9h4.0v1.6l-2.0 1.6l-2.0 -1.6zM178.3 412.5h4.0v1.6l-2.0 1.6l-2.0 -1.6zM180.0 405.2h4.0v1.6l-2.0 1.6l-2.0 -1.6zM181.7 398.0h4.0v1.6l-2.0 1.6l-2.0 -1.6zM183.3 391.0h4.0v1.6l-2.0 1.6l-2.0 -1.6zM185.0 382.4h4.0v1.6l-2.0 1.6l-2.0 -1.6zM186.6 373.3h4.0v1.6l-2.0 1.6l-2.0 -1.6zM188.3 367.6h4.0v1.6l-2.0 1.6l-2.0 -1.6zM190.0 365.1h4.0v1.6l-2.0 1.6l-2.0 -1.6zM191.6 364.8h4.0v1.6l-2.0 1.6l-2.0 -1.6zM193.3 365.7h4.0v1.6l-2.0 1.6l-2.0 -1.6zM195.0 367.2h4.0v1.6l-2.0 1.6l-2.0 -1.6zM196.6 369.9h4.0v1.6l-2.0 1.6l-2.0 -1.6zM198.3 374.2h4.0v1.6l-2.0 1.6l-2.0 -1.6zM200.0 380.1h4.0v1.6l-2.0 1.6l-2.0 -1.6zM201.6 386.7h4.0v1.6l-2.0 1.6l-2.0 -1.6zM203.3 393.9h4.0v1.6l-2.0 1.6l-2.0 -1.6zM205.0 401.2h4.0v1.6l-2.0 1.6l-2.0 -1.6zM206.6 408.3h4.0v1.6l-2.0 1.6l-2.0 -1.6zM208.3 415.6h4.0v1.6l-2.0 1.6l-2.0 -1.6zM210.0 419.3h4.0v1.6l-2.0 1.6l-2.0 -1.6zM211.6 418.8h4.0v1.6l-2.0 1.6l-2.0 -1.6zM213.3 416.0h4.0v1.6l-2.0 1.6l-2.0 -1.6zM215.0 409.3h4.0v1.6l-2.0 1.6l-2.0 -1.6zM216.6 405.0h4.0v1.6l-2.0 1.6l-2.0 -1.6zM218.3 404.6h4.0v1.6l-2.0 1.6l-2.0 -1.6zM220.0 405.6h4.0v1.6l-2.0 1.6l-2.0 -1.6zM221.6 409.6h4.0v1.6l-2.0 1.6l-2.0 -1.6zM223.3 412.2h4.0v1.6l-2.0 1.6l-2.0 -1.6zM225.0 413.4h4.0v1.6l-2.0 1.6l-2.0 -1.6zM226.6 413.7h4.0v1.6l-2.0 1.6l-2.0 -1.6zM228.3 413.8h4.0v1.6l-2.0 1.6l-2.0 -1.6zM230.0 413.5h4.0v1.6l-2.0 1.6l-2.0 -1.6zM231.6 412.8h4.0v1.6l-2.0 1.6l-2.0 -1.6zM233.3 411.2h4.0v1.6l-2.0 1.6l-2.0 -1.6zM235.0 404.9h4.0v1.6l-2.0 1.6l-2.0 -1.6zM236.6 394.1h4.0v1.6l-2.0 1.6l-2.0 -1.6zM238.3 381.9h4.0v1.6l-2.0 1.6l-2.0 -1.6zM239.9 370.6h4.0v1.6l-2.0 1.6l-2.0 -1.6zM241.6 362.3h4.0v1.6l-2.0 1.6l-2.0 -1.6zM243.3 359.0h4.0v1.6l-2.0 1.6l-2.0 -1.6zM244.9 362.0h4.0v1.6l-2.0 1.6l-2.0 -1.6zM246.6 369.3h4.0v1.6l-2.0 1.6l-2.0 -1.6zM248.3 380.0h4.0v1.6l-2.0 1.6l-2.0 -1.6zM249.9 389.8h4.0v1.6l-2.0 1.6l-2.0 -1.6zM251.6 399.5h4.0v1.6l-2.0 1.6l-2.0 -1.6zM253.3 407.5h4.0v1.6l-2.0 1.6l-2.0 -1.6zM254.9 414.2h4.0v1.6l-2.0 1.6l-2.0 -1.6zM256.6 419.9h4.0v1.6l-2.0 1.6l-2.0 -1.6zM258.3 424.2h4.0v1.6l-2.0 1.6l-2.0 -1.6zM259.9 428.4h4.0v1.6l-2.0 1.6l-2.0 -1.6zM261.6 438.0h4.0v1.6l-2.0 1.6l-2.0 -1.6zM263.3 450.0h4.0v1.6l-2.0 1.6l-2.0 -1.6zM264.9 458.2h4.0v1.6l-2.0 1.6l-2.0 -1.6zM266.6 456.3h4.0v1.6l-2.0 1.6l-2.0 -1.6zM268.3 443.9h4.0v1.6l-2.0 1.6l-2.0 -1.6zM269.9 428.1h4.0v1.6l-2.0 1.6l-2.0 -1.6zM271.6 413.5h4.0v1.6l-2.0 1.6l-2.0 -1.6zM273.3 400.2h4.0v1.6l-2.0 1.6l-2.0 -1.6zM274.9 392.3h4.0v1.6l-2.0 1.6l-2.0 -1.6zM276.6 386.3h4.0v1.6l-2.0 1.6l-2.0 -1.6zM278.3 380.1h4.0v1.6l-2.0 1.6l-2.0 -1.6zM279.9 374.4h4.0v1.6l-2.0 1.6l-2.0 -1.6zM281.6 369.0h4.0v1.6l-2.0 1.6l-2.0 -1.6zM283.3 362.4h4.0v1.6l-2.0 1.6l-2.0 -1.6zM284.9 354.0h4.0v1.6l-2.0 1.6l-2.0 -1.6zM286.6 347.7h4.0v1.6l-2.0 1.6l-2.0 -1.6zM288.3 329.9h4.0v1.6l-2.0 1.6l-2.0 -1.6zM289.9 324.3h4.0v1.6l-2.0 1.6l-2.0 -1.6zM291.6 320.5h4.0v1.6l-2.0 1.6l-2.0 -1.6zM293.2 318.1h4.0v1.6l-2.0 1.6l-2.0 -1.6zM294.9 316.6h4.0v1.6l-2.0 1.6l-2.0 -1.6zM296.6 315.8h4.0v1.6l-2.0 1.6l-2.0 -1.6zM298.2 315.4h4.0v1.6l-2.0 1.6l-2.0 -1.6zM299.9 316.1h4.0v1.6l-2.0 1.6l-2.0 -1.6zM301.6 317.9h4.0v1.6l-2.0 1.6l-2.0 -1.6zM303.2 318.2h4.0v1.6l-2.0 1.6l-2.0 -1.6zM304.9 317.1h4.0v1.6l-2.0 1.6l-2.0 -1.6zM306.6 313.1h4.0v1.6l-2.0 1.6l-2.0 -1.6zM308.2 308.9h4.0v1.6l-2.0 1.6l-2.0 -1.6zM309.9 308.2h4.0v1.6l-2.0 1.6l-2.0 -1.6zM311.6 313.6h4.0v1.6l-2.0 1.6l-2.0 -1.6zM313.2 325.8h4.0v1.6l-2.0 1.6l-2.0 -1.6zM314.9 337.7h4.0v1.6l-2.0 1.6l-2.0 -1.6zM316.6 346.4h4.0v1.6l-2.0 1.6l-2.0 -1.6zM318.2 347.7h4.0v1.6l-2.0 1.6l-2.0 -1.6zM319.9 346.3h4.0v1.6l-2.0 1.6l-2.0 -1.6zM321.6 344.9h4.0v1.6l-2.0 1.6l-2.0 -1.6zM323.2 346.2h4.0v1.6l-2.0 1.6l-2.0 -1.6zM324.9 347.8h4.0v1.6l-2.0 1.6l-2.0 -1.6zM326.6 349.1h4.0v1.6l-2.0 1.6l-2.0 -1.6zM328.2 348.3h4.0v1.6l-2.0 1.6l-2.0 -1.6zM329.9 346.6h4.0v1.6l-2.0 1.6l-2.0 -1.6zM331.6 343.5h4.0v1.6l-2.0 1.6l-2.0 -1.6zM333.2 339.6h4.0v1.6l-2.0 1.6l-2.0 -1.6zM334.9 336.1h4.0v1.6l-2.0 1.6l-2.0 -1.6zM336.6 334.9h4.0v1.6l-2.0 1.6l-2.0 -1.6zM338.2 336.5h4.0v1.6l-2.0 1.6l-2.0 -1.6zM339.9 343.8h4.0v1.6l-2.0 1.6l-2.0 -1.6zM341.5 356.7h4.0v1.6l-2.0 1.6l-2.0 -1.6zM343.2 369.1h4.0v1.6l-2.0 1.6l-2.0 -1.6zM344.9 383.4h4.0v1.6l-2.0 1.6l-2.0 -1.6zM346.5 394.2h4.0v1.6l-2.0 1.6l-2.0 -1.6zM348.2 400.9h4.0v1.6l-2.0 1.6l-2.0 -1.6zM349.9 407.0h4.0v1.6l-2.0 1.6l-2.0 -1.6zM351.5 413.2h4.0v1.6l-2.0 1.6l-2.0 -1.6zM353.2 420.6h4.0v1.6l-2.0 1.6l-2.0 -1.6zM354.9 424.6h4.0v1.6l-2.0 1.6l-2.0 -1.6zM356.5 420.0h4.0v1.6l-2.0 1.6l-2.0 -1.6zM358.2 405.2h4.0v1.6l-2.0 1.6l-2.0 -1.6zM359.9 392.1h4.0v1.6l-2.0 1.6l-2.0 -1.6zM361.5 380.0h4.0v1.6l-2.0 1.6l-2.0 -1.6zM363.2 372.0h4.0v1.6l-2.0 1.6l-2.0 -1.6zM364.9 369.8h4.0v1.6l-2.0 1.6l-2.0 -1.6zM366.5 370.7h4.0v1.6l-2.0 1.6l-2.0 -1.6zM368.2 372.7h4.0v1.6l-2.0 1.6l-2.0 -1.6zM369.9 375.8h4.0v1.6l-2.0 1.6l-2.0 -1.6zM371.5 378.7h4.0v1.6l-2.0 1.6l-2.0 -1.6zM373.2 380.6h4.0v1.6l-2.0 1.6l-2.0 -1.6zM374.9 381.5h4.0v1.6l-2.0 1.6l-2.0 -1.6zM376.5 380.2h4.0v1.6l-2.0 1.6l-2.0 -1.6zM378.2 377.8h4.0v1.6l-2.0 1.6l-2.0 -1.6zM379.9 374.0h4.0v1.6l-2.0 1.6l-2.0 -1.6zM381.5 366.9h4.0v1.6l-2.0 1.6l-2.0 -1.6zM383.2 357.8h4.0v1.6l-2.0 1.6l-2.0 -1.6zM384.9 347.1h4.0v1.6l-2.0 1.6l-2.0 -1.6zM386.5 337.3h4.0v1.6l-2.0 1.6l-2.0 -1.6zM388.2 332.4h4.0v1.6l-2.0 1.6l-2.0 -1.6zM389.9 332.4h4.0v1.6l-2.0 1.6l-2.0 -1.6zM391.5 336.5h4.0v1.6l-2.0 1.6l-2.0 -1.6zM393.2 341.8h4.0v1.6l-2.0 1.6l-2.0 -1.6zM394.8 344.7h4.0v1.6l-2.0 1.6l-2.0 -1.6zM396.5 346.4h4.0v1.6l-2.0 1.6l-2.0 -1.6zM398.2 348.6h4.0v1.6l-2.0 1.6l-2.0 -1.6zM399.8 356.6h4.0v1.6l-2.0 1.6l-2.0 -1.6zM401.5 367.3h4.0v1.6l-2.0 1.6l-2.0 -1.6zM403.2 377.7h4.0v1.6l-2.0 1.6l-2.0 -1.6zM404.8 388.9h4.0v1.6l-2.0 1.6l-2.0 -1.6zM406.5 397.1h4.0v1.6l-2.0 1.6l-2.0 -1.6zM408.2 392.0h4.0v1.6l-2.0 1.6l-2.0 -1.6zM409.8 384.2h4.0v1.6l-2.0 1.6l-2.0 -1.6zM411.5 375.0h4.0v1.6l-2.0 1.6l-2.0 -1.6zM413.2 365.3h4.0v1.6l-2.0 1.6l-2.0 -1.6zM414.8 356.7h4.0v1.6l-2.0 1.6l-2.0 -1.6zM416.5 349.7h4.0v1.6l-2.0 1.6l-2.0 -1.6zM418.2 343.9h4.0v1.6l-2.0 1.6l-2.0 -1.6zM419.8 341.5h4.0v1.6l-2.0 1.6l-2.0 -1.6zM421.5 340.9h4.0v1.6l-2.0 1.6l-2.0 -1.6zM423.2 342.9h4.0v1.6l-2.0 1.6l-2.0 -1.6zM424.8 345.0h4.0v1.6l-2.0 1.6l-2.0 -1.6zM426.5 347.1h4.0v1.6l-2.0 1.6l-2.0 -1.6zM428.2 348.3h4.0v1.6l-2.0 1.6l-2.0 -1.6zM429.8 349.0h4.0v1.6l-2.0 1.6l-2.0 -1.6zM431.5 348.3h4.0v1.6l-2.0 1.6l-2.0 -1.6zM433.2 345.9h4.0v1.6l-2.0 1.6l-2.0 -1.6zM434.8 342.3h4.0v1.6l-2.0 1.6l-2.0 -1.6zM436.5 341.6h4.0v1.6l-2.0 1.6l-2.0 -1.6zM438.2 343.8h4.0v1.6l-2.0 1.6l-2.0 -1.6zM439.8 350.1h4.0v1.6l-2.0 1.6l-2.0 -1.6zM441.5 358.8h4.0v1.6l-2.0 1.6l-2.0 -1.6zM443.2 367.3h4.0v1.6l-2.0 1.6l-2.0 -1.6zM444.8 374.5h4.0v1.6l-2.0 1.6l-2.0 -1.6zM446.5 378.3h4.0v1.6l-2.0 1.6l-2.0 -1.6zM448.1 379.7h4.0v1.6l-2.0 1.6l-2.0 -1.6zM449.8 379.1h4.0v1.6l-2.0 1.6l-2.0 -1.6zM451.5 377.1h4.0v1.6l-2.0 1.6l-2.0 -1.6zM453.1 372.8h4.0v1.6l-2.0 1.6l-2.0 -1.6zM454.8 366.0h4.0v1.6l-2.0 1.6l-2.0 -1.6zM456.5 359.1h4.0v1.6l-2.0 1.6l-2.0 -1.6zM458.1 352.4h4.0v1.6l-2.0 1.6l-2.0 -1.6zM459.8 345.2h4.0v1.6l-2.0 1.6l-2.0 -1.6zM461.5 342.4h4.0v1.6l-2.0 1.6l-2.0 -1.6zM463.1 344.3h4.0v1.6l-2.0 1.6l-2.0 -1.6zM464.8 349.2h4.0v1.6l-2.0 1.6l-2.0 -1.6zM466.5 355.5h4.0v1.6l-2.0 1.6l-2.0 -1.6zM468.1 360.4h4.0v1.6l-2.0 1.6l-2.0 -1.6zM469.8 365.6h4.0v1.6l-2.0 1.6l-2.0 -1.6zM471.5 370.7h4.0v1.6l-2.0 1.6l-2.0 -1.6zM473.1 375.2h4.0v1.6l-2.0 1.6l-2.0 -1.6zM474.8 379.7h4.0v1.6l-2.0 1.6l-2.0 -1.6zM476.5 385.4h4.0v1.6l-2.0 1.6l-2.0 -1.6zM478.1 391.9h4.0v1.6l-2.0 1.6l-2.0 -1.6zM479.8 398.5h4.0v1.6l-2.0 1.6l-2.0 -1.6zM481.5 403.3h4.0v1.6l-2.0 1.6l-2.0 -1.6zM483.1 402.1h4.0v1.6l-2.0 1.6l-2.0 -1.6zM484.8 395.6h4.0v1.6l-2.0 1.6l-2.0 -1.6zM486.5 383.3h4.0v1.6l-2.0 1.6l-2.0 -1.6zM488.1 374.0h4.0v1.6l-2.0 1.6l-2.0 -1.6zM489.8 365.8h4.0v1.6l-2.0 1.6l-2.0 -1.6zM491.5 363.6h4.0v1.6l-2.0 1.6l-2.0 -1.6zM493.1 364.6h4.0v1.6l-2.0 1.6l-2.0 -1.6zM494.8 367.6h4.0v1.6l-2.0 1.6l-2.0 -1.6zM496.5 370.6h4.0v1.6l-2.0 1.6l-2.0 -1.6zM498.1 370.2h4.0v1.6l-2.0 1.6l-2.0 -1.6zM499.8 367.9h4.0v1.6l-2.0 1.6l-2.0 -1.6zM501.4 364.6h4.0v1.6l-2.0 1.6l-2.0 -1.6zM503.1 360.4h4.0v1.6l-2.0 1.6l-2.0 -1.6zM504.8 355.4h4.0v1.6l-2.0 1.6l-2.0 -1.6zM506.4 349.7h4.0v1.6l-2.0 1.6l-2.0 -1.6zM508.1 343.6h4.0v1.6l-2.0 1.6l-2.0 -1.6zM509.8 338.8h4.0v1.6l-2.0 1.6l-2.0 -1.6zM511.4 336.7h4.0v1.6l-2.0 1.6l-2.0 -1.6zM513.1 341.7h4.0v1.6l-2.0 1.6l-2.0 -1.6zM514.8 349.8h4.0v1.6l-2.0 1.6l-2.0 -1.6zM516.4 357.9h4.0v1.6l-2.0 1.6l-2.0 -1.6zM518.1 365.9h4.0v1.6l-2.0 1.6l-2.0 -1.6zM519.8 373.7h4.0v1.6l-2.0 1.6l-2.0 -1.6zM521.4 381.0h4.0v1.6l-2.0 1.6l-2.0 -1.6zM523.1 386.9h4.0v1.6l-2.0 1.6l-2.0 -1.6zM524.8 390.5h4.0v1.6l-2.0 1.6l-2.0 -1.6zM526.4 393.0h4.0v1.6l-2.0 1.6l-2.0 -1.6zM528.1 394.5h4.0v1.6l-2.0 1.6l-2.0 -1.6zM529.8 395.1h4.0v1.6l-2.0 1.6l-2.0 -1.6zM531.4 395.3h4.0v1.6l-2.0 1.6l-2.0 -1.6zM533.1 393.1h4.0v1.6l-2.0 1.6l-2.0 -1.6zM534.8 382.5h4.0v1.6l-2.0 1.6l-2.0 -1.6zM536.4 369.4h4.0v1.6l-2.0 1.6l-2.0 -1.6zM538.1 358.1h4.0v1.6l-2.0 1.6l-2.0 -1.6zM539.8 349.5h4.0v1.6l-2.0 1.6l-2.0 -1.6zM541.4 347.3h4.0v1.6l-2.0 1.6l-2.0 -1.6zM543.1 348.7h4.0v1.6l-2.0 1.6l-2.0 -1.6zM544.8 352.9h4.0v1.6l-2.0 1.6l-2.0 -1.6zM546.4 357.2h4.0v1.6l-2.0 1.6l-2.0 -1.6zM548.1 360.7h4.0v1.6l-2.0 1.6l-2.0 -1.6zM549.7 364.0h4.0v1.6l-2.0 1.6l-2.0 -1.6zM551.4 367.7h4.0v1.6l-2.0 1.6l-2.0 -1.6zM553.1 371.5h4.0v1.6l-2.0 1.6l-2.0 -1.6zM554.7 375.4h4.0v1.6l-2.0 1.6l-2.0 -1.6zM556.4 379.7h4.0v1.6l-2.0 1.6l-2.0 -1.6zM558.1 383.2h4.0v1.6l-2.0 1.6l-2.0 -1.6zM559.7 386.5h4.0v1.6l-2.0 1.6l-2.0 -1.6zM561.4 390.0h4.0v1.6l-2.0 1.6l-2.0 -1.6zM563.1 392.7h4.0v1.6l-2.0 1.6l-2.0 -1.6zM564.7 393.8h4.0v1.6l-2.0 1.6l-2.0 -1.6zM566.4 391.8h4.0v1.6l-2.0 1.6l-2.0 -1.6zM568.1 390.6h4.0v1.6l-2.0 1.6l-2.0 -1.6zM569.7 390.3h4.0v1.6l-2.0 1.6l-2.0 -1.6zM571.4 394.6h4.0v1.6l-2.0 1.6l-2.0 -1.6zM573.1 404.0h4.0v1.6l-2.0 1.6l-2.0 -1.6zM574.7 415.8h4.0v1.6l-2.0 1.6l-2.0 -1.6zM576.4 428.3h4.0v1.6l-2.0 1.6l-2.0 -1.6zM578.1 436.0h4.0v1.6l-2.0 1.6l-2.0 -1.6zM579.7 440.0h4.0v1.6l-2.0 1.6l-2.0 -1.6zM581.4 440.0h4.0v1.6l-2.0 1.6l-2.0 -1.6zM583.1 438.5h4.0v1.6l-2.0 1.6l-2.0 -1.6zM584.7 433.4h4.0v1.6l-2.0 1.6l-2.0 -1.6zM586.4 427.9h4.0v1.6l-2.0 1.6l-2.0 -1.6zM588.1 426.3h4.0v1.6l-2.0 1.6l-2.0 -1.6zM589.7 430.2h4.0v1.6l-2.0 1.6l-2.0 -1.6zM591.4 438.3h4.0v1.6l-2.0 1.6l-2.0 -1.6zM593.1 442.0h4.0v1.6l-2.0 1.6l-2.0 -1.6zM594.7 440.4h4.0v1.6l-2.0 1.6l-2.0 -1.6zM596.4 427.0h4.0v1.6l-2.0 1.6l-2.0 -1.6zM598.1 405.7h4.0v1.6l-2.0 1.6l-2.0 -1.6zM599.7 380.5h4.0v1.6l-2.0 1.6l-2.0 -1.6zM601.4 350.8h4.0v1.6l-2.0 1.6l-2.0 -1.6zM603.0 328.8h4.0v1.6l-2.0 1.6l-2.0 -1.6zM604.7 310.4h4.0v1.6l-2.0 1.6l-2.0 -1.6zM606.4 302.5h4.0v1.6l-2.0 1.6l-2.0 -1.6zM608.0 298.1h4.0v1.6l-2.0 1.6l-2.0 -1.6zM609.7 293.9h4.0v1.6l-2.0 1.6l-2.0 -1.6zM611.4 289.5h4.0v1.6l-2.0 1.6l-2.0 -1.6zM613.0 284.4h4.0v1.6l-2.0 1.6l-2.0 -1.6zM614.7 278.1h4.0v1.6l-2.0 1.6l-2.0 -1.6zM616.4 271.9h4.0v1.6l-2.0 1.6l-2.0 -1.6zM618.0 270.0h4.0v1.6l-2.0 1.6l-2.0 -1.6zM619.7 273.3h4.0v1.6l-2.0 1.6l-2.0 -1.6zM621.4 284.7h4.0v1.6l-2.0 1.6l-2.0 -1.6zM623.0 301.9h4.0v1.6l-2.0 1.6l-2.0 -1.6zM624.7 325.5h4.0v1.6l-2.0 1.6l-2.0 -1.6zM626.4 349.7h4.0v1.6l-2.0 1.6l-2.0 -1.6zM628.0 372.7h4.0v1.6l-2.0 1.6l-2.0 -1.6zM629.7 388.7h4.0v1.6l-2.0 1.6l-2.0 -1.6zM631.4 395.8h4.0v1.6l-2.0 1.6l-2.0 -1.6zM633.0 395.1h4.0v1.6l-2.0 1.6l-2.0 -1.6zM634.7 391.3h4.0v1.6l-2.0 1.6l-2.0 -1.6zM636.4 386.9h4.0v1.6l-2.0 1.6l-2.0 -1.6zM638.0 386.7h4.0v1.6l-2.0 1.6l-2.0 -1.6zM639.7 392.5h4.0v1.6l-2.0 1.6l-2.0 -1.6zM641.4 403.9h4.0v1.6l-2.0 1.6l-2.0 -1.6zM643.0 415.4h4.0v1.6l-2.0 1.6l-2.0 -1.6zM644.7 427.4h4.0v1.6l-2.0 1.6l-2.0 -1.6zM646.4 437.1h4.0v1.6l-2.0 1.6l-2.0 -1.6zM648.0 439.5h4.0v1.6l-2.0 1.6l-2.0 -1.6zM649.7 437.7h4.0v1.6l-2.0 1.6l-2.0 -1.6zM651.4 434.1h4.0v1.6l-2.0 1.6l-2.0 -1.6zM653.0 433.5h4.0v1.6l-2.0 1.6l-2.0 -1.6zM654.7 438.4h4.0v1.6l-2.0 1.6l-2.0 -1.6zM656.3 447.1h4.0v1.6l-2.0 1.6l-2.0 -1.6zM658.0 454.3h4.0v1.6l-2.0 1.6l-2.0 -1.6zM659.7 462.7h4.0v1.6l-2.0 1.6l-2.0 -1.6zM661.3 461.5h4.0v1.6l-2.0 1.6l-2.0 -1.6zM663.0 456.3h4.0v1.6l-2.0 1.6l-2.0 -1.6zM664.7 444.9h4.0v1.6l-2.0 1.6l-2.0 -1.6zM666.3 434.1h4.0v1.6l-2.0 1.6l-2.0 -1.6zM668.0 428.4h4.0v1.6l-2.0 1.6l-2.0 -1.6zM669.7 428.5h4.0v1.6l-2.0 1.6l-2.0 -1.6zM671.3 431.1h4.0v1.6l-2.0 1.6l-2.0 -1.6zM673.0 435.7h4.0v1.6l-2.0 1.6l-2.0 -1.6zM674.7 438.9h4.0v1.6l-2.0 1.6l-2.0 -1.6zM676.3 441.4h4.0v1.6l-2.0 1.6l-2.0 -1.6zM678.0 443.2h4.0v1.6l-2.0 1.6l-2.0 -1.6zM679.7 444.9h4.0v1.6l-2.0 1.6l-2.0 -1.6zM681.3 445.0h4.0v1.6l-2.0 1.6l-2.0 -1.6zM683.0 443.3h4.0v1.6l-2.0 1.6l-2.0 -1.6zM684.7 439.4h4.0v1.6l-2.0 1.6l-2.0 -1.6zM686.3 433.8h4.0v1.6l-2.0 1.6l-2.0 -1.6zM688.0 427.3h4.0v1.6l-2.0 1.6l-2.0 -1.6zM689.7 415.3h4.0v1.6l-2.0 1.6l-2.0 -1.6zM691.3 402.2h4.0v1.6l-2.0 1.6l-2.0 -1.6zM693.0 386.1h4.0v1.6l-2.0 1.6l-2.0 -1.6zM694.7 377.3h4.0v1.6l-2.0 1.6l-2.0 -1.6zM696.3 375.5h4.0v1.6l-2.0 1.6l-2.0 -1.6zM698.0 377.4h4.0v1.6l-2.0 1.6l-2.0 -1.6zM699.7 379.6h4.0v1.6l-2.0 1.6l-2.0 -1.6zM701.3 378.3h4.0v1.6l-2.0 1.6l-2.0 -1.6zM703.0 375.0h4.0v1.6l-2.0 1.6l-2.0 -1.6zM704.7 371.9h4.0v1.6l-2.0 1.6l-2.0 -1.6zM706.3 371.4h4.0v1.6l-2.0 1.6l-2.0 -1.6zM708.0 374.8h4.0v1.6l-2.0 1.6l-2.0 -1.6zM709.6 380.4h4.0v1.6l-2.0 1.6l-2.0 -1.6zM711.3 385.2h4.0v1.6l-2.0 1.6l-2.0 -1.6zM713.0 388.3h4.0v1.6l-2.0 1.6l-2.0 -1.6zM714.6 390.8h4.0v1.6l-2.0 1.6l-2.0 -1.6zM716.3 393.5h4.0v1.6l-2.0 1.6l-2.0 -1.6zM718.0 397.0h4.0v1.6l-2.0 1.6l-2.0 -1.6zM719.6 401.2h4.0v1.6l-2.0 1.6l-2.0 -1.6zM721.3 406.9h4.0v1.6l-2.0 1.6l-2.0 -1.6zM723.0 414.1h4.0v1.6l-2.0 1.6l-2.0 -1.6zM724.6 421.7h4.0v1.6l-2.0 1.6l-2.0 -1.6zM726.3 429.6h4.0v1.6l-2.0 1.6l-2.0 -1.6zM728.0 436.0h4.0v1.6l-2.0 1.6l-2.0 -1.6zM729.6 440.1h4.0v1.6l-2.0 1.6l-2.0 -1.6zM731.3 438.9h4.0v1.6l-2.0 1.6l-2.0 -1.6zM733.0 436.5h4.0v1.6l-2.0 1.6l-2.0 -1.6zM734.6 434.7h4.0v1.6l-2.0 1.6l-2.0 -1.6zM736.3 433.1h4.0v1.6l-2.0 1.6l-2.0 -1.6zM738.0 431.8h4.0v1.6l-2.0 1.6l-2.0 -1.6zM739.6 427.7h4.0v1.6l-2.0 1.6l-2.0 -1.6zM741.3 418.9h4.0v1.6l-2.0 1.6l-2.0 -1.6zM743.0 409.4h4.0v1.6l-2.0 1.6l-2.0 -1.6zM744.6 402.4h4.0v1.6l-2.0 1.6l-2.0 -1.6zM746.3 400.3h4.0v1.6l-2.0 1.6l-2.0 -1.6zM748.0 402.1h4.0v1.6l-2.0 1.6l-2.0 -1.6zM749.6 403.3h4.0v1.6l-2.0 1.6l-2.0 -1.6zM751.3 403.8h4.0v1.6l-2.0 1.6l-2.0 -1.6zM753.0 402.5h4.0v1.6l-2.0 1.6l-2.0 -1.6zM754.6 400.3h4.0v1.6l-2.0 1.6l-2.0 -1.6zM756.3 397.3h4.0v1.6l-2.0 1.6l-2.0 -1.6zM757.9 395.2h4.0v1.6l-2.0 1.6l-2.0 -1.6zM759.6 393.9h4.0v1.6l-2.0 1.6l-2.0 -1.6zM761.3 394.7h4.0v1.6l-2.0 1.6l-2.0 -1.6zM762.9 395.8h4.0v1.6l-2.0 1.6l-2.0 -1.6zM764.6 395.6h4.0v1.6l-2.0 1.6l-2.0 -1.6zM766.3 394.3h4.0v1.6l-2.0 1.6l-2.0 -1.6zM767.9 389.6h4.0v1.6l-2.0 1.6l-2.0 -1.6zM769.6 383.4h4.0v1.6l-2.0 1.6l-2.0 -1.6zM771.3 377.7h4.0v1.6l-2.0 1.6l-2.0 -1.6zM772.9 373.8h4.0v1.6l-2.0 1.6l-2.0 -1.6zM774.6 371.9h4.0v1.6l-2.0 1.6l-2.0 -1.6zM776.3 371.4h4.0v1.6l-2.0 1.6l-2.0 -1.6zM777.9 372.2h4.0v1.6l-2.0 1.6l-2.0 -1.6zM779.6 373.4h4.0v1.6l-2.0 1.6l-2.0 -1.6zM781.3 372.6h4.0v1.6l-2.0 1.6l-2.0 -1.6zM782.9 370.2h4.0v1.6l-2.0 1.6l-2.0 -1.6zM784.6 366.3h4.0v1.6l-2.0 1.6l-2.0 -1.6zM786.3 363.6h4.0v1.6l-2.0 1.6l-2.0 -1.6zM787.9 365.7h4.0v1.6l-2.0 1.6l-2.0 -1.6zM789.6 372.9h4.0v1.6l-2.0 1.6l-2.0 -1.6zM791.3 385.1h4.0v1.6l-2.0 1.6l-2.0 -1.6zM792.9 398.4h4.0v1.6l-2.0 1.6l-2.0 -1.6zM794.6 410.8h4.0v1.6l-2.0 1.6l-2.0 -1.6zM796.3 420.0h4.0v1.6l-2.0 1.6l-2.0 -1.6zM797.9 423.6h4.0v1.6l-2.0 1.6l-2.0 -1.6zM799.6 423.9h4.0v1.6l-2.0 1.6l-2.0 -1.6zM801.3 423.3h4.0v1.6l-2.0 1.6l-2.0 -1.6zM802.9 422.6h4.0v1.6l-2.0 1.6l-2.0 -1.6zM804.6 421.7h4.0v1.6l-2.0 1.6l-2.0 -1.6zM806.3 420.8h4.0v1.6l-2.0 1.6l-2.0 -1.6zM807.9 419.9h4.0v1.6l-2.0 1.6l-2.0 -1.6zM809.6 419.8h4.0v1.6l-2.0 1.6l-2.0 -1.6zM811.2 423.0h4.0v1.6l-2.0 1.6l-2.0 -1.6zM812.9 427.4h4.0v1.6l-2.0 1.6l-2.0 -1.6zM814.6 429.3h4.0v1.6l-2.0 1.6l-2.0 -1.6zM816.2 429.4h4.0v1.6l-2.0 1.6l-2.0 -1.6zM817.9 428.6h4.0v1.6l-2.0 1.6l-2.0 -1.6zM819.6 428.1h4.0v1.6l-2.0 1.6l-2.0 -1.6zM821.2 427.7h4.0v1.6l-2.0 1.6l-2.0 -1.6zM822.9 427.6h4.0v1.6l-2.0 1.6l-2.0 -1.6zM824.6 427.6h4.0v1.6l-2.0 1.6l-2.0 -1.6zM826.2 427.8h4.0v1.6l-2.0 1.6l-2.0 -1.6zM827.9 429.8h4.0v1.6l-2.0 1.6l-2.0 -1.6zM829.6 432.0h4.0v1.6l-2.0 1.6l-2.0 -1.6zM831.2 432.5h4.0v1.6l-2.0 1.6l-2.0 -1.6zM832.9 429.5h4.0v1.6l-2.0 1.6l-2.0 -1.6zM834.6 418.4h4.0v1.6l-2.0 1.6l-2.0 -1.6zM836.2 407.7h4.0v1.6l-2.0 1.6l-2.0 -1.6zM837.9 398.3h4.0v1.6l-2.0 1.6l-2.0 -1.6zM839.6 394.7h4.0v1.6l-2.0 1.6l-2.0 -1.6zM841.2 396.6h4.0v1.6l-2.0 1.6l-2.0 -1.6zM842.9 402.4h4.0v1.6l-2.0 1.6l-2.0 -1.6zM844.6 410.1h4.0v1.6l-2.0 1.6l-2.0 -1.6zM846.2 415.9h4.0v1.6l-2.0 1.6l-2.0 -1.6zM847.9 418.9h4.0v1.6l-2.0 1.6l-2.0 -1.6zM849.6 420.1h4.0v1.6l-2.0 1.6l-2.0 -1.6zM851.2 421.3h4.0v1.6l-2.0 1.6l-2.0 -1.6zM852.9 425.3h4.0v1.6l-2.0 1.6l-2.0 -1.6zM854.6 432.1h4.0v1.6l-2.0 1.6l-2.0 -1.6zM856.2 435.8h4.0v1.6l-2.0 1.6l-2.0 -1.6zM857.9 436.4h4.0v1.6l-2.0 1.6l-2.0 -1.6zM859.6 435.0h4.0v1.6l-2.0 1.6l-2.0 -1.6zM861.2 429.1h4.0v1.6l-2.0 1.6l-2.0 -1.6zM862.9 419.6h4.0v1.6l-2.0 1.6l-2.0 -1.6zM864.5 410.2h4.0v1.6l-2.0 1.6l-2.0 -1.6zM866.2 399.7h4.0v1.6l-2.0 1.6l-2.0 -1.6zM867.9 388.5h4.0v1.6l-2.0 1.6l-2.0 -1.6zM869.5 378.6h4.0v1.6l-2.0 1.6l-2.0 -1.6zM871.2 371.7h4.0v1.6l-2.0 1.6l-2.0 -1.6zM872.9 366.6h4.0v1.6l-2.0 1.6l-2.0 -1.6zM874.5 363.7h4.0v1.6l-2.0 1.6l-2.0 -1.6zM876.2 362.9h4.0v1.6l-2.0 1.6l-2.0 -1.6zM877.9 366.5h4.0v1.6l-2.0 1.6l-2.0 -1.6zM879.5 373.1h4.0v1.6l-2.0 1.6l-2.0 -1.6zM881.2 382.2h4.0v1.6l-2.0 1.6l-2.0 -1.6zM882.9 393.3h4.0v1.6l-2.0 1.6l-2.0 -1.6zM884.5 402.3h4.0v1.6l-2.0 1.6l-2.0 -1.6zM886.2 410.4h4.0v1.6l-2.0 1.6l-2.0 -1.6zM887.9 417.1h4.0v1.6l-2.0 1.6l-2.0 -1.6zM889.5 422.8h4.0v1.6l-2.0 1.6l-2.0 -1.6zM891.2 427.2h4.0v1.6l-2.0 1.6l-2.0 -1.6zM892.9 429.6h4.0v1.6l-2.0 1.6l-2.0 -1.6zM894.5 429.0h4.0v1.6l-2.0 1.6l-2.0 -1.6zM896.2 425.5h4.0v1.6l-2.0 1.6l-2.0 -1.6zM897.9 413.8h4.0v1.6l-2.0 1.6l-2.0 -1.6zM899.5 401.5h4.0v1.6l-2.0 1.6l-2.0 -1.6zM901.2 391.4h4.0v1.6l-2.0 1.6l-2.0 -1.6zM902.9 384.6h4.0v1.6l-2.0 1.6l-2.0 -1.6zM904.5 378.5h4.0v1.6l-2.0 1.6l-2.0 -1.6zM906.2 372.5h4.0v1.6l-2.0 1.6l-2.0 -1.6zM907.9 367.0h4.0v1.6l-2.0 1.6l-2.0 -1.6zM909.5 361.7h4.0v1.6l-2.0 1.6l-2.0 -1.6zM911.2 357.3h4.0v1.6l-2.0 1.6l-2.0 -1.6zM912.9 355.6h4.0v1.6l-2.0 1.6l-2.0 -1.6zM914.5 355.9h4.0v1.6l-2.0 1.6l-2.0 -1.6zM916.2 358.1h4.0v1.6l-2.0 1.6l-2.0 -1.6zM917.8 361.3h4.0v1.6l-2.0 1.6l-2.0 -1.6zM919.5 365.1h4.0v1.6l-2.0 1.6l-2.0 -1.6zM921.2 369.2h4.0v1.6l-2.0 1.6l-2.0 -1.6zM922.8 373.8h4.0v1.6l-2.0 1.6l-2.0 -1.6zM924.5 378.7h4.0v1.6l-2.0 1.6l-2.0 -1.6zM926.2 383.8h4.0v1.6l-2.0 1.6l-2.0 -1.6zM927.8 388.7h4.0v1.6l-2.0 1.6l-2.0 -1.6zM929.5 393.8h4.0v1.6l-2.0 1.6l-2.0 -1.6zM931.2 398.7h4.0v1.6l-2.0 1.6l-2.0 -1.6zM932.8 403.4h4.0v1.6l-2.0 1.6l-2.0 -1.6zM934.5 408.1h4.0v1.6l-2.0 1.6l-2.0 -1.6zM936.2 412.4h4.0v1.6l-2.0 1.6l-2.0 -1.6zM937.8 416.1h4.0v1.6l-2.0 1.6l-2.0 -1.6zM939.5 418.0h4.0v1.6l-2.0 1.6l-2.0 -1.6zM941.2 418.8h4.0v1.6l-2.0 1.6l-2.0 -1.6zM942.8 417.8h4.0v1.6l-2.0 1.6l-2.0 -1.6zM944.5 415.3h4.0v1.6l-2.0 1.6l-2.0 -1.6zM946.2 410.4h4.0v1.6l-2.0 1.6l-2.0 -1.6zM947.8 403.0h4.0v1.6l-2.0 1.6l-2.0 -1.6zM949.5 393.8h4.0v1.6l-2.0 1.6l-2.0 -1.6zM951.2 383.1h4.0v1.6l-2.0 1.6l-2.0 -1.6zM952.8 373.3h4.0v1.6l-2.0 1.6l-2.0 -1.6zM954.5 364.4h4.0v1.6l-2.0 1.6l-2.0 -1.6zM956.2 357.5h4.0v1.6l-2.0 1.6l-2.0 -1.6zM957.8 353.9h4.0v1.6l-2.0 1.6l-2.0 -1.6zM959.5 355.8h4.0v1.6l-2.0 1.6l-2.0 -1.6zM961.2 368.1h4.0v1.6l-2.0 1.6l-2.0 -1.6zM962.8 392.7h4.0v1.6l-2.0 1.6l-2.0 -1.6zM964.5 422.6h4.0v1.6l-2.0 1.6l-2.0 -1.6zM965.3 437.0h4.0v1.6l-2.0 1.6l-2.0 -1.6z" fill="#ff00ff"/>
</g>
<g id="labels">
<text class="tick" x="65.85" y="39.20" text-anchor="middle">60</text>
<text class="tick" x="65.85" y="100.00" text-anchor="middle">40</text>
<text class="tick" x="73.75" y="158.00" text-anchor="middle">20</text>
<text class="tick" x="87.20" y="215.50" text-anchor="middle">0</text>
<text class="tick" x="112.45" y="240.50" text-anchor="middle">0</text>
<text class="tick" x="268.70" y="243.70" text-anchor="middle">100</text>
<text class="tick" x="440.10" y="240.70" text-anchor="middle">200</text>
<text class="tick" x="608.75" y="243.70" text-anchor="middle">300</text>
<text class="tick" x="769.70" y="237.00" text-anchor="middle">400</text>
<text class="tick" x="937.95" y="237.50" text-anchor="middle">500</text>
<text class="tick" x="39.95" y="305.00" text-anchor="middle">0.055</text>
<text class="tick" x="43.75" y="373.70" text-anchor="middle">0.045</text>
<text class="tick" x="42.35" y="442.70" text-anchor="middle">0.035</text>
<text class="tick" x="43.75" y="509.00" text-anchor="middle">0.025</text>
<text class="tick" x="110.60" y="534.00" text-anchor="middle">0</text>
<text class="tick" x="276.60" y="533.70" text-anchor="middle">100</text>
<text class="tick" x="436.25" y="533.70" text-anchor="middle">200</text>
<text class="tick" x="614.35" y="533.70" text-anchor="middle">300</text>
<text class="tick" x="766.00" y="533.00" text-anchor="middle">400</text>
<text class="tick" x="931.10" y="533.00" text-anchor="middle">500</text>
<text class="ttl" x="206.00" y="62.60" fill="#0000ff">Observation data of <tspan class="it">AR</tspan></text>
<text class="ttl" x="218.40" y="289.30" fill="#ff00ff" style="font-size:30.4px" textLength="309.6" lengthAdjust="spacingAndGlyphs">Observation data of <tspan class="it">FR</tspan></text>
</g>
</svg>
</body>
</html>
